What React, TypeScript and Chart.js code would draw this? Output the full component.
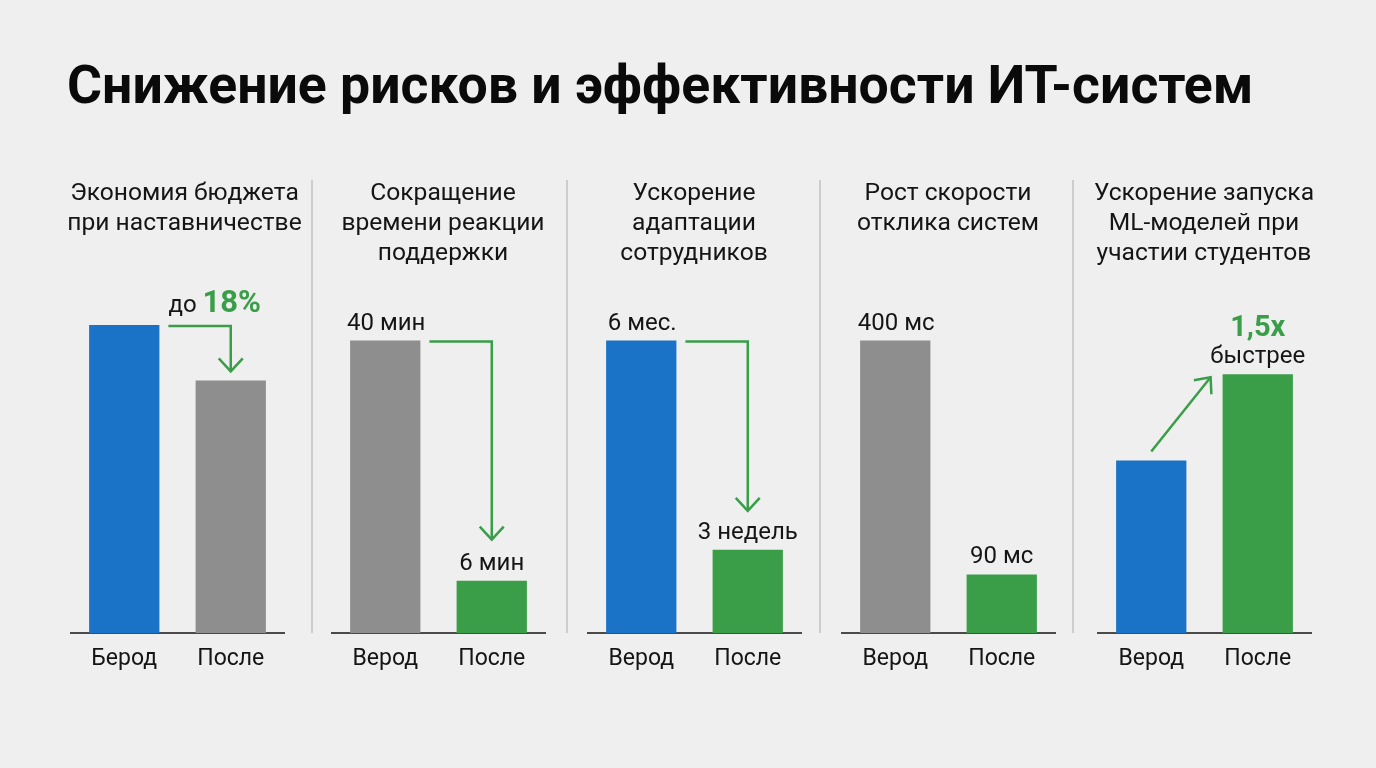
import React, { useEffect, useRef } from "react";
import { Chart, registerables } from "chart.js";

Chart.register(...registerables);

// ---- data ----
const mainTitle = "Снижение рисков и эффективности ИТ-систем";
const panelTitles: string[][] = [
  ["Экономия бюджета", "при наставничестве"],
  ["Сокращение", "времени реакции", "поддержки"],
  ["Ускорение", "адаптации", "сотрудников"],
  ["Рост скорости", "отклика систем"],
  ["Ускорение запуска", "ML-моделей при", "участии студентов"],
];
const categoryLabels: string[][] = [
  ["Берод", "После"],
  ["Верод", "После"],
  ["Верод", "После"],
  ["Верод", "После"],
  ["Верод", "После"],
];
// relative bar heights (index, 0–100)
const beforeValues = [100, 95, 95, 95, 56];
const afterValues = [82, 17, 27, 19, 84];
const beforeLabels = ["", "40 мин", "6 мес.", "400 мс", ""];
const afterLabels = ["", "6 мин", "3 недель", "90 мс", "быстрее"];
const highlightPrefix = ["до", "", "", "", ""];
const highlightValue = ["18%", "", "", "", "1,5x"];

// ---- styling ----
const BLUE = "#1a73c6";
const GRAY = "#8e8e8e";
const GREEN = "#3a9e48";
const ARROW = "#3a9e48";
const beforeColors = [BLUE, GRAY, BLUE, GRAY, BLUE];
const afterColors = [GRAY, GREEN, GREEN, GREEN, GREEN];
const arrowKinds = ["elbow", "elbow", "elbow", "none", "diagonal"];
const arrowTipGap = [9, 41, 39, 0, 0];
const axisStarts = [70.75, 332.25, 587.75, 841.75, 1098.25];
const titleCenters = [184.5, 443, 694, 948, 1204];
const separators = [312, 567, 820, 1073];

const AXIS_W = 213;
const PAD_X = 20;
const CANVAS_TOP = 160;
const CHART_TOP = 325;
const CHART_BOTTOM = 633;
const X_AXIS_H = 50;
const FONT = "Roboto, 'Noto Sans', sans-serif";

function drawChevronDown(ctx: CanvasRenderingContext2D, x: number, y: number) {
  ctx.beginPath();
  ctx.moveTo(x - 12, y - 13);
  ctx.lineTo(x, y);
  ctx.lineTo(x + 12, y - 13);
  ctx.stroke();
}

function Panel({ i }: { i: number }) {
  const ref = useRef<HTMLCanvasElement | null>(null);
  useEffect(() => {
    if (!ref.current) return;
    const annotate = {
      id: "annotate" + i,
      afterDatasetsDraw(chart: any) {
        const ctx = chart.ctx as CanvasRenderingContext2D;
        const meta = chart.getDatasetMeta(0);
        const b1 = meta.data[0];
        const b2 = meta.data[1];
        const w1 = b1.width / 2;
        const w2 = b2.width / 2;
        ctx.save();
        ctx.fillStyle = "#151515";
        ctx.textAlign = "center";
        ctx.textBaseline = "alphabetic";
        ctx.font = `24px ${FONT}`;
        if (beforeLabels[i]) ctx.fillText(beforeLabels[i], b1.x + 1, b1.y - 10);
        if (afterLabels[i]) ctx.fillText(afterLabels[i], b2.x, b2.y - 11);

        // highlight values
        if (highlightValue[i]) {
          if (highlightPrefix[i]) {
            const x0 = b1.x + w1 + 9;
            const yb = b1.y - 13;
            ctx.textAlign = "left";
            ctx.font = `24px ${FONT}`;
            ctx.fillStyle = "#151515";
            ctx.fillText(highlightPrefix[i], x0, yb);
            const pw = ctx.measureText(highlightPrefix[i] + " ").width;
            ctx.font = `bold 31px ${FONT}`;
            ctx.fillStyle = GREEN;
            ctx.fillText(highlightValue[i], x0 + pw, yb);
          } else {
            ctx.textAlign = "center";
            ctx.font = `bold 29px ${FONT}`;
            ctx.fillStyle = GREEN;
            ctx.fillText(highlightValue[i], b2.x, b2.y - 38);
          }
        }

        // arrows
        ctx.strokeStyle = ARROW;
        ctx.lineWidth = 2.5;
        ctx.lineJoin = "miter";
        ctx.lineCap = "butt";
        const kind = arrowKinds[i];
        if (kind === "elbow") {
          const sx = b1.x + w1 + 9;
          const sy = b1.y + 1;
          const tipY = b2.y - arrowTipGap[i];
          ctx.beginPath();
          ctx.moveTo(sx, sy);
          ctx.lineTo(b2.x, sy);
          ctx.lineTo(b2.x, tipY);
          ctx.stroke();
          drawChevronDown(ctx, b2.x, tipY);
        } else if (kind === "diagonal") {
          const sx = b1.x;
          const sy = b1.y - 9;
          const tx = b2.x - w2 - 12;
          const ty = b2.y + 3;
          ctx.beginPath();
          ctx.moveTo(sx, sy);
          ctx.lineTo(tx, ty);
          ctx.stroke();
          const ang = Math.atan2(ty - sy, tx - sx);
          const L = 17;
          const spread = 0.72;
          ctx.beginPath();
          ctx.moveTo(tx - L * Math.cos(ang - spread), ty - L * Math.sin(ang - spread));
          ctx.lineTo(tx, ty);
          ctx.lineTo(tx - L * Math.cos(ang + spread), ty - L * Math.sin(ang + spread));
          ctx.stroke();
        }
        ctx.restore();
      },
    };

    const chart = new Chart(ref.current, {
      type: "bar",
      data: {
        labels: categoryLabels[i],
        datasets: [
          {
            data: [beforeValues[i], afterValues[i]],
            backgroundColor: [beforeColors[i], afterColors[i]],
            borderWidth: 0,
            categoryPercentage: 1,
            barPercentage: 0.66,
          },
        ],
      },
      options: {
        animation: false,
        responsive: false,
        maintainAspectRatio: false,
        layout: {
          padding: { left: PAD_X, right: PAD_X, top: CHART_TOP - CANVAS_TOP, bottom: 0 },
        },
        plugins: {
          legend: { display: false },
          tooltip: { enabled: false },
          title: { display: false },
        },
        scales: {
          y: { display: false, min: 0, max: 100 },
          x: {
            grid: { display: false, drawTicks: false },
            border: { display: true, color: "#4a4a4a", width: 2 },
            ticks: {
              color: "#151515",
              font: { family: FONT, size: 23 },
              padding: 12,
            },
            afterFit: (scale: any) => {
              scale.height = X_AXIS_H;
            },
          },
        },
      },
      plugins: [annotate],
    });
    return () => chart.destroy();
  }, [i]);

  const height = CHART_BOTTOM - CANVAS_TOP + X_AXIS_H;
  return (
    <>
      <canvas
        ref={ref}
        width={AXIS_W + 2 * PAD_X}
        height={height}
        style={{
          position: "absolute",
          left: axisStarts[i] - PAD_X,
          top: CANVAS_TOP,
          width: AXIS_W + 2 * PAD_X,
          height,
        }}
      />
      <div
        style={{
          position: "absolute",
          left: titleCenters[i] - 140,
          width: 280,
          top: 176.5,
          textAlign: "center",
          fontFamily: FONT,
          fontSize: 24.6,
          lineHeight: "30px",
          color: "#151515",
          whiteSpace: "nowrap",
        }}
      >
        {panelTitles[i].map((t, k) => (
          <div key={k}>{t}</div>
        ))}
      </div>
    </>
  );
}

export default function App() {
  return (
    <div
      style={{
        position: "fixed",
        left: 0,
        top: 0,
        width: 1376,
        height: 768,
        background: "#efefef",
        overflow: "hidden",
      }}
    >
      <div
        style={{
          position: "absolute",
          left: 67,
          top: 58,
          fontFamily: FONT,
          fontWeight: 700,
          fontSize: 53.6,
          lineHeight: "54px",
          color: "#0a0a0a",
          whiteSpace: "nowrap",
        }}
      >
        {mainTitle}
      </div>
      {separators.map((x, k) => (
        <div
          key={k}
          style={{
            position: "absolute",
            left: x - 1,
            top: 180,
            width: 2,
            height: CHART_BOTTOM - 180,
            background: "#cdcdcd",
          }}
        />
      ))}
      {[0, 1, 2, 3, 4].map((i) => (
        <Panel key={i} i={i} />
      ))}
    </div>
  );
}
